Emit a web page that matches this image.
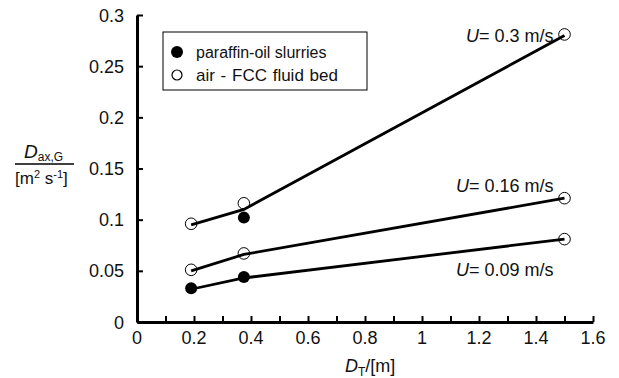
<!DOCTYPE html>
<html>
<head>
<meta charset="utf-8">
<script src="https://cdn.jsdelivr.net/npm/d3@7"></script>
<style>
  body { margin: 0; background: #fff; }
  text { font-family: "Liberation Sans", Arial, sans-serif; fill: #111; }
</style>
</head>
<body>
<script>
const width = 619;
const height = 378;

// tube diameters
const diameters = [0.19, 0.375, 1.5];

// fitted lines per superficial velocity
const line030 = [0.095, 0.11, 0.28];
const line016 = [0.05, 0.066, 0.121];
const line009 = [0.032, 0.043, 0.081];

// air - FCC fluid bed (open)
const openX = [0.19, 0.375, 1.5, 0.19, 0.375, 1.5, 1.5];
const openY = [0.096, 0.116, 0.281, 0.051, 0.067, 0.121, 0.081];

// paraffin-oil slurries (filled)
const filledX = [0.375, 0.19, 0.375];
const filledY = [0.102, 0.033, 0.044];

const xTicks = [0, 0.2, 0.4, 0.6, 0.8, 1, 1.2, 1.4, 1.6];
const yTicks = [0, 0.05, 0.1, 0.15, 0.2, 0.25, 0.3];

let svg = d3
  .select("body")
  .append("svg")
  .attr("width", width)
  .attr("height", height);

let margin = { top: 15, right: 26, bottom: 56, left: 137 };

let xScale = d3
  .scaleLinear()
  .domain([0, 1.6])
  .range([margin.left, width - margin.right]);

let yScale = d3
  .scaleLinear()
  .domain([0, 0.3])
  .range([height - margin.bottom, margin.top]);

// axes
let bottomAxis = d3
  .axisBottom(xScale)
  .tickValues(d3.range(0, 16.5).map((d) => d / 10))
  .tickSizeInner(-6)
  .tickSizeOuter(0)
  .tickFormat("");
let leftAxis = d3
  .axisLeft(yScale)
  .tickValues(yTicks)
  .tickSizeInner(-6)
  .tickSizeOuter(0)
  .tickFormat("");

let bottomContainer = svg
  .append("g")
  .attr("transform", `translate(0, ${yScale(0)})`)
  .call(bottomAxis);
let leftContainer = svg
  .append("g")
  .attr("transform", `translate(${xScale(0)}, 0)`)
  .call(leftAxis);

bottomContainer.select(".domain").attr("stroke", "#000").attr("stroke-width", 3);
leftContainer.select(".domain").attr("stroke", "#000").attr("stroke-width", 3);
svg.selectAll(".tick line").attr("stroke", "#000").attr("stroke-width", 2);

svg
  .append("g")
  .selectAll("text")
  .data(xTicks)
  .join("text")
  .attr("x", (d) => xScale(d))
  .attr("y", yScale(0) + 22)
  .attr("text-anchor", "middle")
  .style("font-size", "18px")
  .text((d) => d);

svg
  .append("g")
  .selectAll("text")
  .data(yTicks)
  .join("text")
  .attr("x", xScale(0) - 13)
  .attr("y", (d) => yScale(d) + 6.5)
  .attr("text-anchor", "end")
  .style("font-size", "18px")
  .text((d) => d);

// axis titles
let xt = svg
  .append("text")
  .attr("x", 345)
  .attr("y", 372)
  .style("font-size", "18px");
xt.append("tspan").style("font-style", "italic").text("D");
xt.append("tspan").attr("dy", 4).style("font-size", "12px").text("T");
xt.append("tspan").attr("dy", -4).text("/[m]");

let yt = svg.append("text").attr("x", 24).attr("y", 158).style("font-size", "19px");
yt.append("tspan").style("font-style", "italic").text("D");
yt.append("tspan").attr("dy", 3).style("font-size", "12px").text("ax,G");
svg
  .append("line")
  .attr("x1", 15)
  .attr("x2", 74)
  .attr("y1", 164)
  .attr("y2", 164)
  .attr("stroke", "#000")
  .attr("stroke-width", 1.5);
let yb = svg.append("text").attr("x", 15).attr("y", 184).style("font-size", "17px");
yb.append("tspan").text("[m");
yb.append("tspan").attr("dy", -6).style("font-size", "11px").text("2");
yb.append("tspan").attr("dy", 6).text(" s");
yb.append("tspan").attr("dy", -6).style("font-size", "11px").text("-1");
yb.append("tspan").attr("dy", 6).text("]");

// lines
let lineGen = d3
  .line()
  .x((d) => xScale(d[0]))
  .y((d) => yScale(d[1]));

[line030, line016, line009].forEach((vals) => {
  svg
    .append("path")
    .datum(d3.zip(diameters, vals))
    .attr("d", lineGen)
    .attr("fill", "none")
    .attr("stroke", "#000")
    .attr("stroke-width", 2.8);
});

// markers
svg
  .append("g")
  .selectAll("circle")
  .data(d3.zip(openX, openY))
  .join("circle")
  .attr("cx", (d) => xScale(d[0]))
  .attr("cy", (d) => yScale(d[1]))
  .attr("r", 5.8)
  .attr("fill", "none")
  .attr("stroke", "#000")
  .attr("stroke-width", 1);

svg
  .append("g")
  .selectAll("circle")
  .data(d3.zip(filledX, filledY))
  .join("circle")
  .attr("cx", (d) => xScale(d[0]))
  .attr("cy", (d) => yScale(d[1]))
  .attr("r", 6)
  .attr("fill", "#000");

// velocity labels
function velLabel(x, y, txt) {
  let t = svg.append("text").attr("x", x).attr("y", y).style("font-size", "18px");
  t.append("tspan").style("font-style", "italic").text("U");
  t.append("tspan").text(txt);
}
velLabel(466, 42, "= 0.3 m/s");
velLabel(456, 192, "= 0.16 m/s");
velLabel(456, 276, "= 0.09 m/s");

// legend
svg
  .append("rect")
  .attr("x", 163)
  .attr("y", 32)
  .attr("width", 204)
  .attr("height", 58)
  .attr("fill", "#fff")
  .attr("stroke", "#000")
  .attr("stroke-width", 1);
svg.append("circle").attr("cx", 177).attr("cy", 52).attr("r", 6).attr("fill", "#000");
svg
  .append("circle")
  .attr("cx", 177)
  .attr("cy", 75)
  .attr("r", 5)
  .attr("fill", "none")
  .attr("stroke", "#000")
  .attr("stroke-width", 1.2);
svg.append("text").attr("x", 196).attr("y", 58).style("font-size", "16px").text("paraffin-oil slurries");
svg
  .append("text")
  .attr("x", 196)
  .attr("y", 81)
  .style("font-size", "17px")
  .style("word-spacing", "1px")
  .text("air - FCC fluid bed");
</script>
</body>
</html>
